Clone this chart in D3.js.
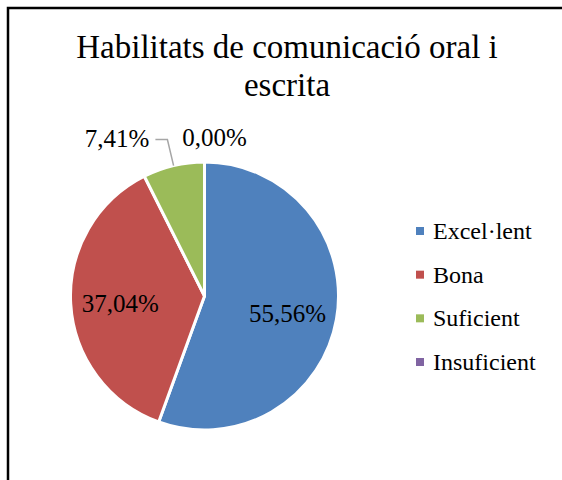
<!DOCTYPE html>
<html>
<head>
<meta charset="utf-8">
<script src="https://cdn.jsdelivr.net/npm/d3@7"></script>
<style>
  body { margin: 0; background: #fff; }
  text { font-family: "Liberation Serif", "DejaVu Serif", serif; fill: #000; }
</style>
</head>
<body>
<div id="chart"></div>
<script>
// chart data
var categories = ["Excel·lent", "Bona", "Suficient", "Insuficient"];
var values = [55.56, 37.04, 7.41, 0.00];
var colors = ["#4F81BD", "#C0504D", "#9BBB59", "#8064A2"];
var titleLines = ["Habilitats de comunicació oral i", "escrita"];

var width = 562,
    height = 480,
    cx = 204.5,
    cy = 296,
    radius = 134;

// catalan style numbers: 55,56%
var locale = d3.formatLocale({decimal: ",", thousands: ".", grouping: [3], currency: ["", "€"]});
var fmt = locale.format(".2f");

var svg = d3.select("#chart").append("svg")
    .attr("width", width)
    .attr("height", height);

svg.append("rect")
    .attr("width", width).attr("height", height)
    .attr("fill", "#fff");

// chart area border (runs off right/bottom edge)
svg.append("rect")
    .attr("x", 8).attr("y", 8)
    .attr("width", width + 10).attr("height", height + 10)
    .attr("fill", "none")
    .attr("stroke", "#000")
    .attr("stroke-width", 2.5);

// title
svg.append("g").selectAll("text")
    .data(titleLines).enter()
    .append("text")
    .attr("x", 287)
    .attr("y", function(d, i) { return 58 + i * 38; })
    .attr("text-anchor", "middle")
    .style("font-size", "33px")
    .text(function(d) { return d; });

var data = categories.map(function(c, i) {
    return {label: c, value: values[i], color: colors[i]};
});

var pie = d3.pie()
    .sort(null)
    .value(function(d) { return d.value; });

var arc = d3.arc()
    .innerRadius(0)
    .outerRadius(radius);

var arcs = pie(data);

var g = svg.append("g")
    .attr("transform", "translate(" + cx + "," + cy + ")");

g.selectAll("path.slice")
    .data(arcs.filter(function(d) { return d.value > 0; }))
    .enter().append("path")
    .attr("class", "slice")
    .attr("d", arc)
    .attr("fill", function(d) { return d.data.color; })
    .attr("stroke", "#fff")
    .attr("stroke-width", 3)
    .attr("stroke-linejoin", "round");

function midAngle(d) { return (d.startAngle + d.endAngle) / 2; }
function polar(a, r) { return [Math.sin(a) * r, -Math.cos(a) * r]; }

// labels: big slices inside, small ones outside with leader line
arcs.forEach(function(d) {
    var a = midAngle(d);
    var share = d.value / d3.sum(values);
    if (share > 0.15) {
        var p = polar(a, radius * 0.63);
        g.append("text")
            .attr("x", p[0])
            .attr("y", p[1])
            .attr("dy", "0.45em")
            .attr("text-anchor", "middle")
            .style("font-size", "25px")
            .text(fmt(d.value) + "%");
    } else if (d.value > 0) {
        var p0 = polar(a, radius),
            p1 = polar(a, radius * 1.2),
            side = p1[0] < 0 ? -1 : 1,
            p2 = [p1[0] + side * 12, p1[1]];
        g.append("path")
            .attr("d", d3.line()([p0, p1, p2]))
            .attr("fill", "none")
            .attr("stroke", "#A6A6A6")
            .attr("stroke-width", 1.5);
        g.append("text")
            .attr("x", p2[0] + side * 6)
            .attr("y", p2[1])
            .attr("dy", "0.3em")
            .attr("text-anchor", side < 0 ? "end" : "start")
            .style("font-size", "25px")
            .text(fmt(d.value) + "%");
    } else {
        var q = polar(a, radius * 1.12);
        g.append("text")
            .attr("x", q[0] + 10)
            .attr("y", q[1])
            .attr("text-anchor", "middle")
            .style("font-size", "25px")
            .text(fmt(d.value) + "%");
    }
});

// legend
var ly = d3.scalePoint()
    .domain(categories)
    .range([231, 362]);

var legend = svg.append("g").selectAll("g")
    .data(data).enter()
    .append("g")
    .attr("transform", function(d) { return "translate(416," + ly(d.label) + ")"; });

legend.append("rect")
    .attr("y", -4)
    .attr("width", 8)
    .attr("height", 8)
    .attr("fill", function(d) { return d.color; });

legend.append("text")
    .attr("x", 17)
    .attr("dy", "0.33em")
    .style("font-size", "24px")
    .text(function(d) { return d.label; });
</script>
</body>
</html>
